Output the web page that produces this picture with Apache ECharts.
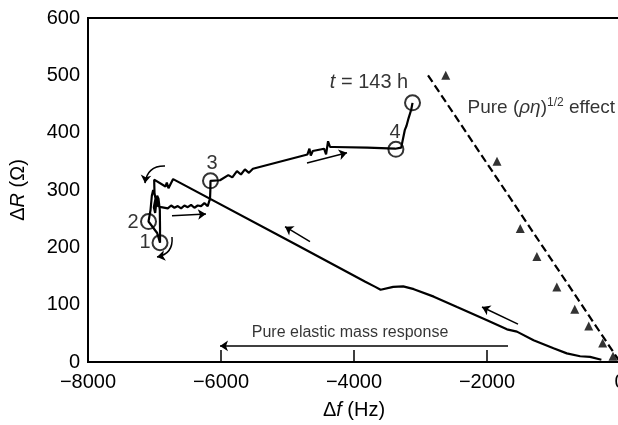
<!DOCTYPE html>
<html><head><meta charset="utf-8">
<script src="https://cdn.jsdelivr.net/npm/echarts@6/dist/echarts.min.js"></script>
<style>html,body{margin:0;padding:0;background:#fff}#c{width:618px;height:425px}</style>
</head><body><div id="c"></div>
<script>
// Measured trajectory (Δf in Hz, ΔR in Ω)
const curveF = [-280,-450,-600,-800,-1000,-1300,-1550,-1700,-2000,-2450,-2800,-3100,-3260,-3410,-3600,-3680,-3830,-4860,-6720,
  -6790,-6815,-6835,-7005,-7000,-6985,-7010,-6990,-6960,-6940,-6920,-6917,-6917,-6960,-7090,-7060,-7040,-7020,-6980,-6950,-6900,
  -6800,-6750,-6700,-6650,-6600,-6550,-6500,-6450,-6400,-6350,-6300,-6250,-6220,-6200,-6165,-6160,-6158,
  -6015,-5890,-5830,-5760,-5700,-5640,-5580,-5520,-4700,-4670,-4650,-4620,-4450,-4420,-4390,-4360,-4300,-3800,-3380,
  -3290,-3235,-3210,-3180,-3140,-3120];
const curveR = [4,9,10,15,24,38,53,57,73,96,114,127,132,131,126,131,140,204,319,
  303,313,306,318,295,285,270,260,290,285,265,235,208,225,245,265,290,300,285,272,270,
  268,273,269,272,268,273,270,274,269,273,272,277,276,272,285,300,316,
  317,326,322,333,327,336,330,337,362,372,360,368,372,362,385,375,375,374,372,
  374,405,412,425,440,452];
// Pure (ρη)^1/2 effect: dashed line and triangles
const dashF = [-2887, 0];
const dashR = [500, 0];
const triF = [-2620,-1850,-1500,-1250,-950,-680,-470,-260,-105];
const triR = [500,350,233,184,131,92,63,33,10];
// Numbered points (open circles)
const circF = [-6917,-7090,-6158,-3370,-3120];
const circR = [208,245,316,371,452];
// Arrows (from, to)
const arrowsStraight = [
  [[-4662,210],[-5037,236]],
  [[-1534,66],[-2075,96]],
  [[-6737,255],[-6226,258]],
  [[-4707,347],[-4105,365]],
  [[-1684,28],[-6015,28]]
];
const arrowsCurved = [
  [[-6842,342],[-7143,312]],
  [[-6737,218],[-6962,183]]
];
const arrowsCurveness = [-0.45, 0.45];
// Annotations [Δf, ΔR, text]
const notes = [
  [-7143,209,'1'],[-7323,244,'2'],[-6135,347,'3'],[-3383,401,'4'],
  [-3774,488,'{i|t} = 143 h'],
  [-4060,52,'{s|Pure elastic mass response}']
];
const noteLeft = [[-2301,443,'Pure ({i|ρη}){sup|1/2} effect']];

const F = 'Liberation Sans, Arial, Helvetica, sans-serif';
const chart = echarts.init(document.getElementById('c'));
const pts = (a,b)=>a.map((v,i)=>[v,b[i]]);
const rich = {
  i:{fontStyle:'italic',fontSize:20,fontFamily:F,color:'#000'},
  s:{fontSize:16,fontFamily:F,color:'#000'},
  n:{fontSize:20,fontFamily:F,color:'#000'}
};
const rich2 = {
  i:{fontStyle:'italic',fontSize:19,fontFamily:F,color:'#000'},
  sup:{fontSize:12,fontFamily:F,color:'#000',verticalAlign:'top',padding:[0,0,10,0]}
};
chart.setOption({
  animation:false,
  backgroundColor:'#fff',
  grid:{left:88,right:-2,top:18,bottom:63,show:true,borderColor:'#000',borderWidth:2,containLabel:false,outerBoundsMode:'none'},
  xAxis:{type:'value',min:-8000,max:0,interval:2000,
    name:'{n|Δ}{i|f}{n| (Hz)}',nameLocation:'middle',nameGap:38,nameTextStyle:{rich},
    axisLine:{show:true,lineStyle:{color:'#000',width:2}},
    axisTick:{show:true,inside:true,length:12,lineStyle:{color:'#000',width:1.5}},
    axisLabel:{fontSize:20,fontFamily:F,color:'#000',margin:10,formatter:v=>String(v).replace('-','\u2212')},
    splitLine:{show:false}},
  yAxis:{type:'value',min:0,max:600,interval:100,
    name:'{n|Δ}{i|R}{n| (Ω)}',nameLocation:'middle',nameGap:60,nameRotate:90,nameTextStyle:{rich},
    axisLine:{show:true,lineStyle:{color:'#000',width:2}},
    axisTick:{show:true,inside:true,length:12,lineStyle:{color:'#000',width:1.5}},
    axisLabel:{fontSize:20,fontFamily:F,color:'#000',margin:8},
    splitLine:{show:false}},
  series:[
    {type:'line',data:pts(curveF,curveR),symbol:'none',lineStyle:{color:'#000',width:2.2},z:3},
    {type:'line',data:pts(dashF,dashR),symbol:'none',lineStyle:{color:'#000',width:2.2,type:[8,4]},z:3},
    {type:'scatter',data:pts(triF,triR),symbol:'triangle',symbolSize:9,itemStyle:{color:'#000'},z:4},
    {type:'scatter',data:pts(circF,circR),symbol:'circle',symbolSize:15,itemStyle:{color:'rgba(0,0,0,0)',borderColor:'#000',borderWidth:2},z:5},
    {type:'lines',coordinateSystem:'cartesian2d',symbol:['none','arrow'],symbolSize:8,
      lineStyle:{color:'#000',width:1.5,opacity:1},data:arrowsStraight.map(c=>({coords:c})),z:4},
    {type:'lines',coordinateSystem:'cartesian2d',symbol:['none','arrow'],symbolSize:8,
      lineStyle:{color:'#000',width:1.5,opacity:1},
      data:arrowsCurved.map((c,k)=>({coords:c,lineStyle:{curveness:arrowsCurveness[k]}})),z:4},
    {type:'scatter',data:notes.map(n=>({value:[n[0],n[1]],label:{formatter:n[2]}})),symbolSize:1,itemStyle:{color:'rgba(0,0,0,0)'},
      label:{show:true,position:'inside',fontSize:20,fontFamily:F,color:'#000',rich},z:6},
    {type:'scatter',data:noteLeft.map(n=>({value:[n[0],n[1]],label:{formatter:n[2]}})),symbolSize:1,itemStyle:{color:'rgba(0,0,0,0)'},
      label:{show:true,position:'right',distance:0,fontSize:19,fontFamily:F,color:'#000',rich:rich2},z:6}
  ]
});
</script></body></html>
